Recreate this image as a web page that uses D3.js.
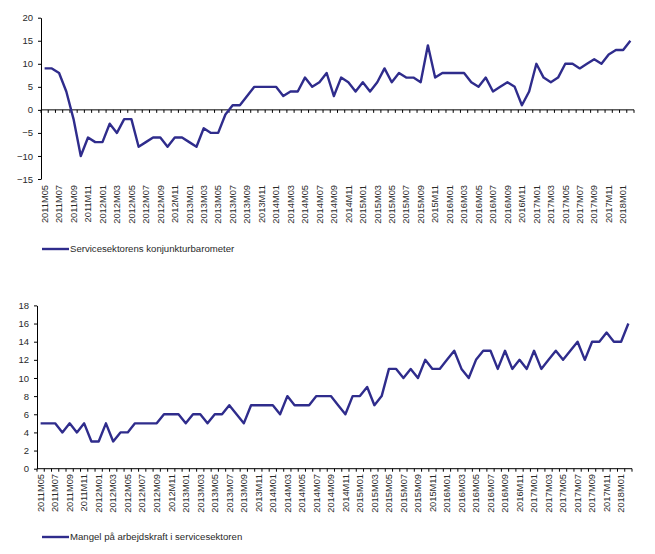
<html>
  <head>
    <meta charset="utf-8">
    <script src="https://cdn.jsdelivr.net/npm/d3@7"></script>
    <style>
      body { margin: 0px; background: #fff; }
      text { font-family: "Liberation Sans", Arial, sans-serif; fill: #2a2a2a; }
      .axis .domain, .axis .tick line { stroke: #000; }
      .series { fill: none; stroke: #2f2c8c; stroke-width: 2.4px; stroke-linejoin: round; }
    </style>
  </head>
  <body>
    <svg width="655" height="554"></svg>
    <script>
      // categories: monthly, 2011M05 .. 2018M02
      var months = [];
      for (var yr = 2011; yr <= 2018; yr++) {
        for (var mo = 1; mo <= 12; mo++) {
          if (yr === 2011 && mo < 5) continue;
          if (yr === 2018 && mo > 2) continue;
          months.push(yr + 'M' + (mo < 10 ? '0' : '') + mo);
        }
      }

      var barometer = [
        9, 9, 8, 4, -2, -10, -6, -7, -7, -3, -5, -2, -2, -8, -7, -6, -6, -8, -6, -6,
        -7, -8, -4, -5, -5, -1, 1, 1, 3, 5, 5, 5, 5, 3, 4, 4, 7, 5, 6, 8,
        3, 7, 6, 4, 6, 4, 6, 9, 6, 8, 7, 7, 6, 14, 7, 8, 8, 8, 8, 6,
        5, 7, 4, 5, 6, 5, 1, 4, 10, 7, 6, 7, 10, 10, 9, 10, 11, 10, 12, 13,
        13, 15
      ];
      var mangel = [
        5, 5, 5, 4, 5, 4, 5, 3, 3, 5, 3, 4, 4, 5, 5, 5, 5, 6, 6, 6,
        5, 6, 6, 5, 6, 6, 7, 6, 5, 7, 7, 7, 7, 6, 8, 7, 7, 7, 8, 8,
        8, 7, 6, 8, 8, 9, 7, 8, 11, 11, 10, 11, 10, 12, 11, 11, 12, 13, 11, 10,
        12, 13, 13, 11, 13, 11, 12, 11, 13, 11, 12, 13, 12, 13, 14, 12, 14, 14, 15, 14,
        14, 16
      ];
      var topTicks = [-15, -10, -5, 0, 5, 10, 15, 20];
      var bottomTicks = [0, 2, 4, 6, 8, 10, 12, 14, 16, 18];
      var topName = 'Servicesektorens konjunkturbarometer';
      var bottomName = 'Mangel på arbejdskraft i servicesektoren';

      var svg = d3.select('svg');

      function panel(cfg, values, ticks, name) {
        var x = d3.scaleBand().domain(months).range([cfg.x0, cfg.x1]);
        var y = d3.scaleLinear().domain(d3.extent(ticks)).range([cfg.yBot, cfg.yTop]);
        var g = svg.append('g');

        // y axis
        g.append('g')
          .attr('class', 'axis')
          .attr('transform', `translate(${cfg.x0},0)`)
          .call(d3.axisLeft(y).tickValues(ticks).tickSize(3).tickSizeOuter(0).tickPadding(5))
          .call(a => a.selectAll('text').style('font-size', '9.5px'));

        // category axis at zero, ticks between categories
        var zero = y(0);
        var bounds = months.map(m => x(m)).concat([cfg.x1]);
        g.append('line')
          .attr('x1', cfg.x0).attr('x2', cfg.x1)
          .attr('y1', zero).attr('y2', zero)
          .attr('stroke', '#000');
        g.selectAll('.ctick').data(bounds).enter().append('line')
          .attr('class', 'ctick')
          .attr('x1', d => d).attr('x2', d => d)
          .attr('y1', zero).attr('y2', zero + 3)
          .attr('stroke', '#000');

        // rotated month labels, every second month
        g.append('g')
          .attr('class', 'axis')
          .attr('transform', `translate(0,${cfg.labelY})`)
          .call(d3.axisBottom(x).tickValues(months.filter((m, i) => i % 2 === 0)).tickSize(0))
          .call(a => a.select('.domain').remove())
          .selectAll('text')
            .attr('x', 0).attr('y', 0).attr('dy', '0.35em')
            .attr('transform', 'rotate(-90)')
            .attr('text-anchor', 'end')
            .style('font-size', '9.3px');

        var line = d3.line()
          .x((d, i) => x(months[i]) + x.bandwidth() / 2)
          .y(d => y(d));
        g.append('path').datum(values).attr('class', 'series').attr('d', line);

        // legend
        g.append('line')
          .attr('x1', 42).attr('x2', 69)
          .attr('y1', cfg.legendY).attr('y2', cfg.legendY)
          .attr('stroke', '#2f2c8c').attr('stroke-width', 2.4);
        g.append('text')
          .attr('x', 70).attr('y', cfg.legendY).attr('dy', '0.35em')
          .style('font-size', '9.6px')
          .text(name);
      }

      panel({ x0: 41, x1: 634, yTop: 17.7, yBot: 179, labelY: 185, legendY: 249 }, barometer, topTicks, topName);
      panel({ x0: 37, x1: 632, yTop: 305.4, yBot: 468.7, labelY: 474, legendY: 537 }, mangel, bottomTicks, bottomName);
    </script>
  </body>
</html>
